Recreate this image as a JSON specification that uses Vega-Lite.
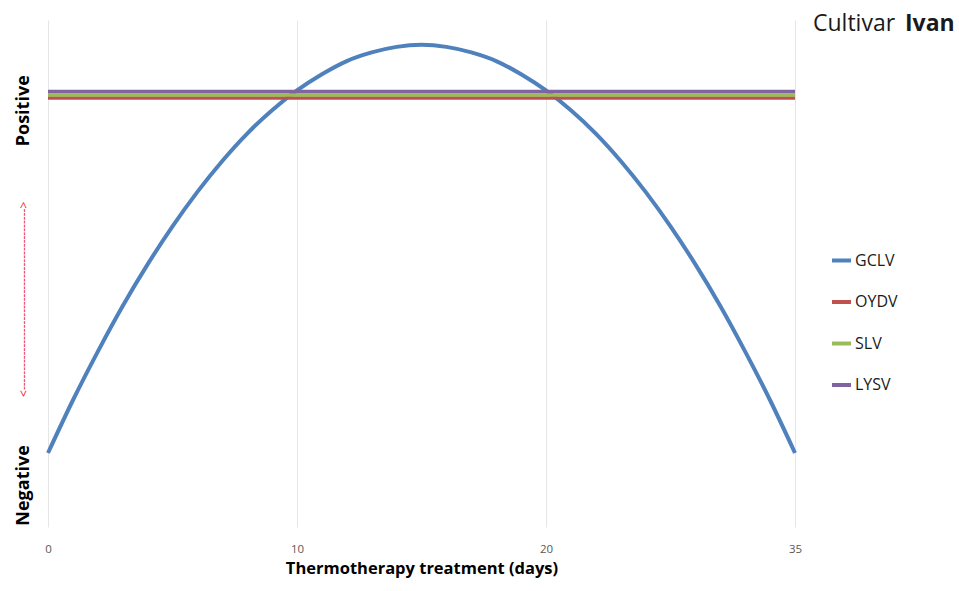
{
  "$schema": "https://vega.github.io/schema/vega-lite/v6.json",
  "autosize": {"type": "none"},
  "width": 747,
  "height": 507,
  "padding": {"left": 48, "top": 20, "right": 164, "bottom": 64},
  "background": "white",
  "config": {"view": {"stroke": null}, "font": "Open Sans"},
  "title": {
    "text": "Cultivar",
    "subtitle": "\u200d\u2003\u2003\u2003\u2003Ivan",
    "anchor": "start",
    "frame": "group",
    "dx": 765,
    "offset": -16,
    "font": "Open Sans",
    "fontSize": 23,
    "fontWeight": "normal",
    "color": "#1a1a1a",
    "subtitleFont": "Open Sans",
    "subtitleFontSize": 23,
    "subtitleFontWeight": "bold",
    "subtitleColor": "#1a1a1a",
    "subtitlePadding": -23
  },
  "datasets": {
    "curve": [
      {"virus": "GCLV", "day": 0, "level": 14.6},
      {"virus": "GCLV", "day": 1, "level": 25.0},
      {"virus": "GCLV", "day": 2, "level": 34.6},
      {"virus": "GCLV", "day": 3, "level": 43.6},
      {"virus": "GCLV", "day": 4, "level": 51.8},
      {"virus": "GCLV", "day": 5, "level": 59.3},
      {"virus": "GCLV", "day": 6, "level": 66.1},
      {"virus": "GCLV", "day": 7, "level": 72.2},
      {"virus": "GCLV", "day": 8, "level": 77.6},
      {"virus": "GCLV", "day": 9, "level": 82.2},
      {"virus": "GCLV", "day": 10, "level": 86.1},
      {"virus": "GCLV", "day": 11, "level": 89.3},
      {"virus": "GCLV", "day": 12, "level": 91.9},
      {"virus": "GCLV", "day": 13, "level": 93.6},
      {"virus": "GCLV", "day": 14, "level": 94.7},
      {"virus": "GCLV", "day": 15, "level": 95.1},
      {"virus": "GCLV", "day": 16, "level": 94.7},
      {"virus": "GCLV", "day": 17, "level": 93.6},
      {"virus": "GCLV", "day": 18, "level": 91.9},
      {"virus": "GCLV", "day": 19, "level": 89.3},
      {"virus": "GCLV", "day": 20, "level": 86.1},
      {"virus": "GCLV", "day": 21.5, "level": 82.2},
      {"virus": "GCLV", "day": 23, "level": 77.6},
      {"virus": "GCLV", "day": 24.5, "level": 72.2},
      {"virus": "GCLV", "day": 26, "level": 66.1},
      {"virus": "GCLV", "day": 27.5, "level": 59.3},
      {"virus": "GCLV", "day": 29, "level": 51.8},
      {"virus": "GCLV", "day": 30.5, "level": 43.6},
      {"virus": "GCLV", "day": 32, "level": 34.6},
      {"virus": "GCLV", "day": 33.5, "level": 25.0},
      {"virus": "GCLV", "day": 35, "level": 14.6}
    ],
    "flat": [
      {"virus": "OYDV", "day": 0, "level": 84.6},
      {"virus": "OYDV", "day": 35, "level": 84.6},
      {"virus": "SLV", "day": 0, "level": 85.2},
      {"virus": "SLV", "day": 35, "level": 85.2},
      {"virus": "LYSV", "day": 0, "level": 85.9},
      {"virus": "LYSV", "day": 35, "level": 85.9}
    ]
  },
  "encoding": {
    "x": {
      "field": "day",
      "type": "quantitative",
      "scale": {"domain": [0, 10, 20, 35], "range": [0, 249, 498, 747], "nice": false, "zero": false},
      "axis": {
        "values": [0, 10, 20, 35],
        "title": "Thermotherapy treatment (days)",
        "titleFont": "Open Sans",
        "titleFontSize": 16.5,
        "titleFontWeight": "bold",
        "titleColor": "#000000",
        "titlePadding": 6,
        "labelFont": "Open Sans",
        "labelFontSize": 11.5,
        "labelColor": "#595959",
        "labelPadding": 16,
        "labelFlush": false,
        "labelOverlap": false,
        "domain": false,
        "ticks": false,
        "grid": true,
        "gridColor": "#e6e6e6",
        "gridWidth": 1
      }
    },
    "y": {
      "field": "level",
      "type": "quantitative",
      "scale": {"domain": [0, 100], "nice": false, "zero": false},
      "axis": {
        "values": [8.3, 45, 82.2],
        "labelExpr": "datum.value < 20 ? 'Negative' : (datum.value > 60 ? 'Positive' : '<----------------------------------------------->')",
        "title": null,
        "domain": false,
        "ticks": false,
        "grid": false,
        "labelAngle": -90,
        "labelAlign": "center",
        "labelBaseline": "middle",
        "labelPadding": 25,
        "labelLimit": 0,
        "labelFont": "Open Sans",
        "labelFontSize": {"condition": {"test": "datum.value > 40 && datum.value < 50", "value": 12}, "value": 18},
        "labelFontWeight": {"condition": {"test": "datum.value > 40 && datum.value < 50", "value": "normal"}, "value": "bold"},
        "labelColor": {"condition": {"test": "datum.value > 40 && datum.value < 50", "value": "#e8262b"}, "value": "#000000"},
        "labelOverlap": false,
        "labelBound": false,
        "labelFlush": false
      }
    },
    "color": {
      "field": "virus",
      "type": "nominal",
      "scale": {"domain": ["GCLV", "OYDV", "SLV", "LYSV"], "range": ["#4f81bd", "#c0504d", "#9bbb59", "#8064a2"]},
      "legend": {
        "orient": "none",
        "legendX": 782,
        "legendY": 229,
        "padding": 0,
        "title": null,
        "symbolType": "stroke",
        "symbolSize": 361,
        "symbolStrokeWidth": 4,
        "labelFont": "Open Sans",
        "labelFontSize": 16,
        "labelColor": "#1a1a1a",
        "labelOffset": 2,
        "rowPadding": 21.5
      }
    }
  },
  "layer": [
    {"data": {"name": "curve"}, "mark": {"type": "line", "strokeWidth": 4, "interpolate": "monotone"}},
    {"data": {"name": "flat"}, "mark": {"type": "line", "strokeWidth": 3.5}}
  ]
}
